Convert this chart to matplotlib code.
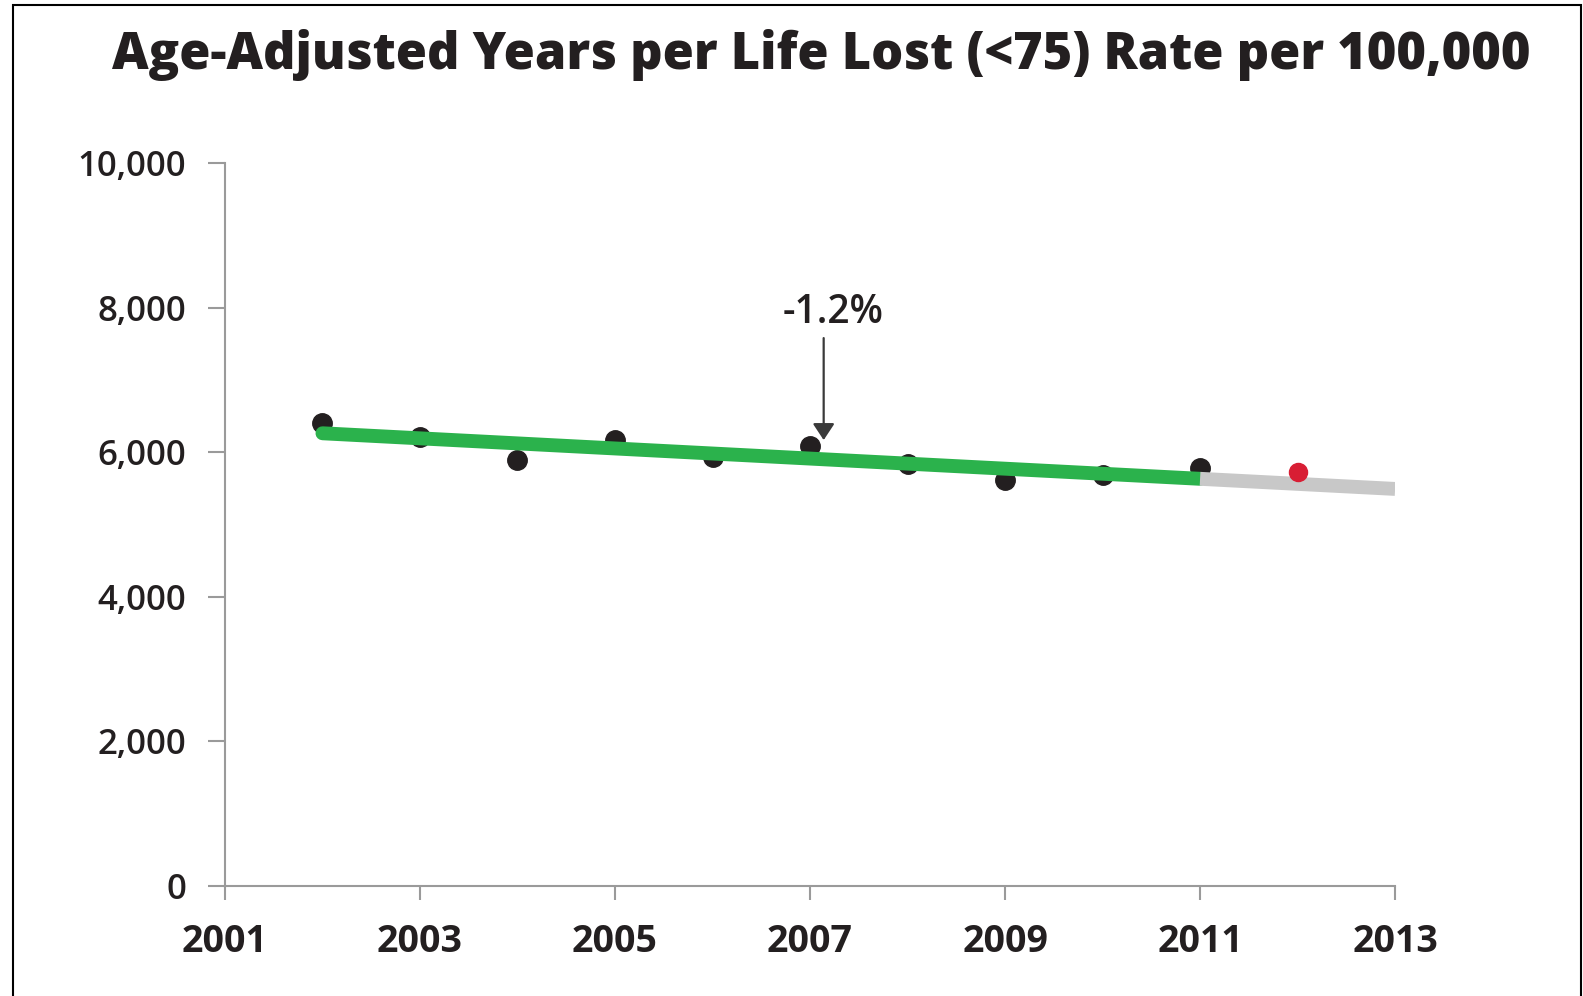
import matplotlib
matplotlib.use("Agg")
import matplotlib.pyplot as plt
from matplotlib.patches import Rectangle

# ---- data ----
years = [2002, 2003, 2004, 2005, 2006, 2007, 2008, 2009, 2010, 2011]
values = [6400, 6210, 5890, 6170, 5930, 6080, 5830, 5620, 5680, 5775]
latest_year = [2012]
latest_value = [5730]
trend_years = [2002, 2011]
trend_values = [6260, 5630]
proj_years = [2011, 2013]
proj_values = [5630, 5490]
x_ticks = [2001, 2003, 2005, 2007, 2009, 2011, 2013]
y_ticks = [0, 2000, 4000, 6000, 8000, 10000]
y_tick_labels = ["0", "2,000", "4,000", "6,000", "8,000", "10,000"]
title = "Age-Adjusted Years per Life Lost (<75) Rate per 100,000"
annot_text = "-1.2%"
annot_x = 2007.14
annot_tip = 6166
annot_tail = 7577
annot_text_pos = (2007.24, 7925)

TXT = "#231f20"
AX = "#9a9a9a"

fig = plt.figure(figsize=(15.83, 9.96), dpi=100)
ax = fig.add_axes([0.1421, 0.1107, 0.8813 - 0.1421, 0.8364 - 0.1107])

ax.plot(years, values, "o", color="#231f20", markersize=14, zorder=2, clip_on=False)
ax.plot(trend_years, trend_values, color="#2bb24c", lw=10, solid_capstyle="round", zorder=3)
ax.plot(proj_years, proj_values, color="#c8c8c8", lw=10, solid_capstyle="butt", zorder=3)
ax.plot(latest_year, latest_value, "o", color="#d81e34", markersize=13, zorder=4)

ax.set_xlim(2001, 2013)
ax.set_ylim(0, 10000)
ax.set_xticks(x_ticks)
ax.set_xticklabels([str(y) for y in x_ticks])
ax.set_yticks(y_ticks)
ax.set_yticklabels(y_tick_labels)

for s in ["top", "right"]:
    ax.spines[s].set_visible(False)
for s in ["left", "bottom"]:
    ax.spines[s].set_color(AX)
    ax.spines[s].set_linewidth(1.5)

ax.tick_params(axis="y", length=12, width=1.5, color=AX, pad=16, labelsize=25, labelcolor=TXT)
ax.tick_params(axis="x", length=10, width=1.5, color=AX, pad=17, labelsize=27, labelcolor=TXT)
for lab in ax.get_yticklabels():
    lab.set_family("Open Sans"); lab.set_weight("semibold")
for lab in ax.get_xticklabels():
    lab.set_family("Open Sans"); lab.set_weight("bold")

ax.annotate("", xy=(annot_x, annot_tip), xytext=(annot_x, annot_tail),
            arrowprops=dict(arrowstyle="-|>,head_length=0.5,head_width=0.33",
                            mutation_scale=20, lw=1.6, color="#3a3a3a",
                            shrinkA=0, shrinkB=0), zorder=5)
ax.text(annot_text_pos[0], annot_text_pos[1], annot_text, ha="center", va="center",
        fontsize=28, family="Open Sans", weight="semibold", color=TXT)

fig.text(0.5188, 0.945, title, ha="center", va="center", fontsize=36.4,
         family="Open Sans", weight="heavy", color=TXT)

fig.patches.append(Rectangle((13 / 1583, -0.05), (1581 - 13) / 1583, 0.995 + 0.05,
                             transform=fig.transFigure, fill=False, edgecolor="black",
                             lw=1.5, zorder=10))

fig.savefig("out.png", dpi=100)
